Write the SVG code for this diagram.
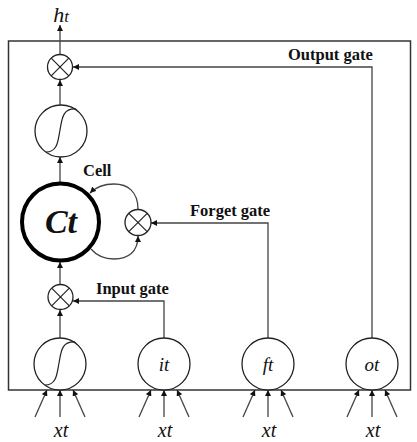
<svg xmlns="http://www.w3.org/2000/svg" width="417" height="442" viewBox="0 0 417 442">
<style>
.node{fill:#fff;stroke:#222;stroke-width:1.3}
.cell{fill:#fff;stroke:#000;stroke-width:4}
.x{stroke:#222;stroke-width:1.2}
.sig{fill:none;stroke:#222;stroke-width:1.2}
.con{fill:none;stroke:#444;stroke-width:1.3}
.lbl{font-family:"Liberation Serif",serif;font-weight:bold;font-size:16.5px;fill:#111}
.var{font-family:"Liberation Serif",serif;font-style:italic;fill:#111}
</style>
<defs>
<marker id="ah" viewBox="0 0 10 10" refX="10" refY="5" markerWidth="6" markerHeight="6" markerUnits="userSpaceOnUse" orient="auto">
<path d="M0,0 L10,5 L0,10 z" fill="#111"/>
</marker>
</defs>
<rect x="8.5" y="41" width="402" height="349" fill="none" stroke="#333" stroke-width="1.5"/>
<g id="connectors">
<line class="con" x1="60" y1="54" x2="60" y2="25" marker-end="url(#ah)"/>
<polyline class="con" points="372,338 372,67 73,67" marker-end="url(#ah)"/>
<line class="con" x1="60" y1="105" x2="60" y2="80" marker-end="url(#ah)"/>
<line class="con" x1="60" y1="183" x2="60" y2="157" marker-end="url(#ah)"/>
<line class="con" x1="60" y1="284" x2="60" y2="262" marker-end="url(#ah)"/>
<line class="con" x1="60" y1="338" x2="60" y2="310" marker-end="url(#ah)"/>
<polyline class="con" points="164,338 164,301 73,301" marker-end="url(#ah)"/>
<polyline class="con" points="268,338 268,223 151,223" marker-end="url(#ah)"/>
<path class="con" d="M138,209 C138,192 128,184 114,184 C103,184 95,188 90,193" marker-end="url(#ah)"/>
<path class="con" d="M91,249 C97,256 104,259 114,259 C128,259 138,252 138,236" marker-end="url(#ah)"/>
<g id="inputs">
<line class="con" x1="35" y1="417" x2="47" y2="390" marker-end="url(#ah)"/>
<line class="con" x1="60" y1="417" x2="60" y2="390" marker-end="url(#ah)"/>
<line class="con" x1="85" y1="417" x2="73" y2="390" marker-end="url(#ah)"/>
<line class="con" x1="139" y1="417" x2="151" y2="390" marker-end="url(#ah)"/>
<line class="con" x1="164" y1="417" x2="164" y2="390" marker-end="url(#ah)"/>
<line class="con" x1="189" y1="417" x2="177" y2="390" marker-end="url(#ah)"/>
<line class="con" x1="243" y1="417" x2="255" y2="390" marker-end="url(#ah)"/>
<line class="con" x1="268" y1="417" x2="268" y2="390" marker-end="url(#ah)"/>
<line class="con" x1="293" y1="417" x2="281" y2="390" marker-end="url(#ah)"/>
<line class="con" x1="347" y1="417" x2="359" y2="390" marker-end="url(#ah)"/>
<line class="con" x1="372" y1="417" x2="372" y2="390" marker-end="url(#ah)"/>
<line class="con" x1="397" y1="417" x2="385" y2="390" marker-end="url(#ah)"/>
</g>
</g>
<g id="mul_out">
<circle class="node" cx="60" cy="67" r="12.5"/>
<line class="x" x1="51.2" y1="58.2" x2="68.8" y2="75.8"/>
<line class="x" x1="68.8" y1="58.2" x2="51.2" y2="75.8"/>
</g>
<g id="tanh_out">
<circle class="node" cx="61" cy="131" r="26"/>
<path class="sig" d="M46,152 C58,152 58,140 60,130 C62,120 62,108 76,109"/>
</g>
<g id="cell">
<circle class="cell" cx="60.5" cy="222" r="38.5"/>
<text class="var" x="61" y="233" text-anchor="middle" font-size="34" font-weight="bold">Ct</text>
</g>
<g id="mul_forget">
<circle class="node" cx="138" cy="222.5" r="13"/>
<line class="x" x1="128.8" y1="213.3" x2="147.2" y2="231.7"/>
<line class="x" x1="147.2" y1="213.3" x2="128.8" y2="231.7"/>
</g>
<g id="mul_in">
<circle class="node" cx="60.5" cy="297" r="12.5"/>
<line class="x" x1="51.7" y1="288.2" x2="69.3" y2="305.8"/>
<line class="x" x1="69.3" y1="288.2" x2="51.7" y2="305.8"/>
</g>
<g id="tanh_in">
<circle class="node" cx="60" cy="364" r="26"/>
<path class="sig" d="M45,385 C57,385 57,373 59,363 C61,353 61,341 75,342"/>
</g>
<g id="gate_i">
<circle class="node" cx="164" cy="364" r="26"/>
<text class="var" x="164" y="371" text-anchor="middle" font-size="19">it</text>
</g>
<g id="gate_f">
<circle class="node" cx="268" cy="364" r="26"/>
<text class="var" x="268" y="371" text-anchor="middle" font-size="19">ft</text>
</g>
<g id="gate_o">
<circle class="node" cx="372" cy="364" r="26"/>
<text class="var" x="372" y="371" text-anchor="middle" font-size="19">ot</text>
</g>
<g id="labels">
<text class="var" x="61" y="22" text-anchor="middle"><tspan font-size="22">h</tspan><tspan font-size="17">t</tspan></text>
<text class="lbl" x="83" y="176">Cell</text>
<text class="lbl" x="190" y="216">Forget gate</text>
<text class="lbl" x="96" y="294">Input gate</text>
<text class="lbl" x="288" y="60">Output gate</text>
<text class="var" x="61" y="437" text-anchor="middle" font-size="20">xt</text>
<text class="var" x="165" y="437" text-anchor="middle" font-size="20">xt</text>
<text class="var" x="269" y="437" text-anchor="middle" font-size="20">xt</text>
<text class="var" x="373" y="437" text-anchor="middle" font-size="20">xt</text>
</g>
</svg>
